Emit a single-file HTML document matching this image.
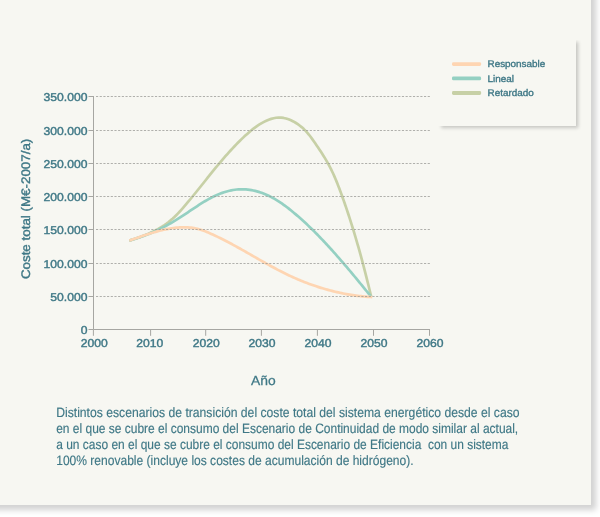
<!DOCTYPE html>
<html lang="es"><head><meta charset="utf-8"><title>Coste total</title>
<style>
html,body{margin:0;padding:0;background:#fff;}
body{width:600px;height:517px;position:relative;overflow:hidden;font-family:"Liberation Sans",sans-serif;}
.card{position:absolute;left:-20px;top:-20px;width:611px;height:524.5px;background:#f7f7f2;box-shadow:4.5px 4.5px 6px rgba(0,0,0,.18);}
.legend{position:absolute;left:438px;top:40px;width:138px;height:85.5px;background:#f7f7f2;box-shadow:3.2px 2px 3.5px rgba(0,0,0,.2);clip-path:inset(0 -12px -12px 0);}
</style></head><body>
<div class="card"></div>
<div class="legend"></div>
<svg width="600" height="517" viewBox="0 0 600 517" text-rendering="geometricPrecision" style="position:absolute;left:0;top:0">
<path d="M93.5 96.0 V329.5 H430.0" fill="none" stroke="#a6a6a2" stroke-width="1"/>
<line x1="88.5" y1="329.5" x2="93.5" y2="329.5" stroke="#a6a6a2" stroke-width="1"/>
<line x1="88.5" y1="296.5" x2="93.5" y2="296.5" stroke="#a6a6a2" stroke-width="1"/>
<line x1="88.5" y1="263.5" x2="93.5" y2="263.5" stroke="#a6a6a2" stroke-width="1"/>
<line x1="88.5" y1="229.5" x2="93.5" y2="229.5" stroke="#a6a6a2" stroke-width="1"/>
<line x1="88.5" y1="196.5" x2="93.5" y2="196.5" stroke="#a6a6a2" stroke-width="1"/>
<line x1="88.5" y1="163.5" x2="93.5" y2="163.5" stroke="#a6a6a2" stroke-width="1"/>
<line x1="88.5" y1="130.5" x2="93.5" y2="130.5" stroke="#a6a6a2" stroke-width="1"/>
<line x1="88.5" y1="96.5" x2="93.5" y2="96.5" stroke="#a6a6a2" stroke-width="1"/>
<line x1="93.4" y1="329.5" x2="93.4" y2="335.8" stroke="#a6a6a2" stroke-width="1"/>
<line x1="150.6" y1="329.5" x2="150.6" y2="335.8" stroke="#a6a6a2" stroke-width="1"/>
<line x1="205.7" y1="329.5" x2="205.7" y2="335.8" stroke="#a6a6a2" stroke-width="1"/>
<line x1="261.4" y1="329.5" x2="261.4" y2="335.8" stroke="#a6a6a2" stroke-width="1"/>
<line x1="317.4" y1="329.5" x2="317.4" y2="335.8" stroke="#a6a6a2" stroke-width="1"/>
<line x1="373.5" y1="329.5" x2="373.5" y2="335.8" stroke="#a6a6a2" stroke-width="1"/>
<line x1="429.5" y1="329.5" x2="429.5" y2="335.8" stroke="#a6a6a2" stroke-width="1"/>
<path d="M129.30 240.60 L131.71 239.85 L134.14 239.07 L136.57 238.25 L139.00 237.41 L141.43 236.53 L143.85 235.60 L146.26 234.64 L148.65 233.63 L151.01 232.57 L153.36 231.46 L155.67 230.29 L157.94 229.07 L160.18 227.78 L162.37 226.44 L164.51 225.03 L166.60 223.54 L168.63 221.99 L170.60 220.37 L172.53 218.69 L174.40 216.95 L176.24 215.16 L178.04 213.33 L179.80 211.46 L181.53 209.56 L183.24 207.62 L184.93 205.67 L186.60 203.71 L188.25 201.73 L189.90 199.74 L191.54 197.75 L193.17 195.76 L194.79 193.76 L196.41 191.76 L198.02 189.76 L199.63 187.75 L201.23 185.74 L202.84 183.73 L204.44 181.73 L206.04 179.72 L207.65 177.71 L209.26 175.71 L210.87 173.71 L212.48 171.71 L214.10 169.72 L215.73 167.73 L217.36 165.75 L219.00 163.78 L220.65 161.81 L222.31 159.85 L223.99 157.90 L225.67 155.97 L227.37 154.04 L229.08 152.13 L230.81 150.22 L232.56 148.34 L234.32 146.47 L236.10 144.61 L237.90 142.77 L239.72 140.95 L241.56 139.15 L243.42 137.37 L245.30 135.61 L247.22 133.88 L249.16 132.17 L251.14 130.51 L253.15 128.90 L255.21 127.35 L257.32 125.86 L259.49 124.44 L261.71 123.10 L263.99 121.85 L266.33 120.71 L268.72 119.71 L271.15 118.86 L273.61 118.21 L276.09 117.76 L278.59 117.56 L281.10 117.63 L283.61 117.96 L286.09 118.52 L288.55 119.31 L290.96 120.29 L293.32 121.44 L295.60 122.75 L297.80 124.18 L299.91 125.72 L301.93 127.36 L303.84 129.10 L305.66 130.92 L307.38 132.81 L309.02 134.76 L310.59 136.78 L312.11 138.83 L313.59 140.92 L315.04 143.03 L316.49 145.16 L317.93 147.29 L319.37 149.44 L320.79 151.59 L322.20 153.76 L323.58 155.94 L324.94 158.14 L326.26 160.35 L327.54 162.58 L328.78 164.84 L329.98 167.11 L331.14 169.40 L332.26 171.72 L333.34 174.04 L334.39 176.39 L335.41 178.75 L336.40 181.12 L337.37 183.50 L338.31 185.89 L339.23 188.29 L340.14 190.70 L341.03 193.11 L341.91 195.53 L342.77 197.95 L343.63 200.38 L344.48 202.81 L345.32 205.24 L346.15 207.67 L346.98 210.11 L347.79 212.55 L348.60 215.00 L349.39 217.44 L350.18 219.89 L350.96 222.34 L351.74 224.80 L352.50 227.25 L353.26 229.71 L354.01 232.17 L354.75 234.64 L355.49 237.10 L356.22 239.57 L356.94 242.04 L357.65 244.51 L358.36 246.99 L359.06 249.46 L359.75 251.94 L360.44 254.42 L361.12 256.90 L361.79 259.39 L362.46 261.87 L363.12 264.36 L363.77 266.85 L364.42 269.34 L365.06 271.83 L365.70 274.32 L366.33 276.81 L366.96 279.31 L367.58 281.80 L368.20 284.30 L368.81 286.80 L369.41 289.30 L370.01 291.80 L370.61 294.30 L371.20 296.80" fill="none" stroke="#c7d0a6" stroke-width="2.7" stroke-linecap="butt" stroke-linejoin="round"/>
<path d="M129.30 240.60 L131.10 240.07 L132.90 239.52 L134.69 238.96 L136.48 238.38 L138.26 237.79 L140.04 237.18 L141.81 236.55 L143.57 235.91 L145.33 235.25 L147.08 234.58 L148.82 233.88 L150.55 233.17 L152.28 232.45 L154.00 231.70 L155.71 230.94 L157.40 230.16 L159.09 229.36 L160.77 228.55 L162.44 227.72 L164.10 226.86 L165.75 225.99 L167.38 225.10 L169.01 224.19 L170.62 223.27 L172.23 222.33 L173.82 221.37 L175.41 220.40 L176.99 219.42 L178.57 218.42 L180.14 217.42 L181.71 216.41 L183.27 215.38 L184.83 214.35 L186.39 213.32 L187.95 212.28 L189.51 211.23 L191.07 210.19 L192.64 209.14 L194.20 208.09 L195.77 207.05 L197.35 206.01 L198.93 204.98 L200.52 203.96 L202.12 202.96 L203.72 201.97 L205.34 201.00 L206.97 200.05 L208.61 199.12 L210.26 198.22 L211.92 197.35 L213.61 196.51 L215.30 195.70 L217.02 194.93 L218.75 194.20 L220.50 193.51 L222.26 192.86 L224.04 192.26 L225.83 191.71 L227.63 191.21 L229.44 190.76 L231.27 190.36 L233.09 190.02 L234.93 189.74 L236.77 189.53 L238.61 189.37 L240.46 189.29 L242.30 189.27 L244.15 189.32 L245.99 189.43 L247.83 189.60 L249.67 189.84 L251.50 190.14 L253.32 190.49 L255.14 190.91 L256.94 191.37 L258.74 191.89 L260.52 192.46 L262.29 193.08 L264.04 193.75 L265.78 194.46 L267.50 195.22 L269.20 196.02 L270.88 196.86 L272.54 197.74 L274.18 198.65 L275.81 199.60 L277.41 200.58 L279.00 201.60 L280.57 202.64 L282.12 203.70 L283.66 204.79 L285.18 205.90 L286.69 207.04 L288.18 208.19 L289.67 209.35 L291.14 210.53 L292.60 211.72 L294.05 212.92 L295.48 214.13 L296.91 215.35 L298.33 216.57 L299.74 217.81 L301.14 219.05 L302.53 220.30 L303.91 221.56 L305.28 222.83 L306.65 224.10 L308.00 225.38 L309.35 226.67 L310.69 227.97 L312.03 229.27 L313.35 230.58 L314.67 231.89 L315.99 233.22 L317.30 234.55 L318.60 235.88 L319.90 237.22 L321.19 238.57 L322.48 239.92 L323.76 241.28 L325.04 242.64 L326.31 244.01 L327.58 245.38 L328.84 246.76 L330.10 248.14 L331.36 249.53 L332.61 250.92 L333.86 252.31 L335.11 253.71 L336.35 255.11 L337.59 256.52 L338.83 257.93 L340.06 259.34 L341.29 260.76 L342.52 262.18 L343.74 263.60 L344.96 265.02 L346.18 266.45 L347.39 267.88 L348.60 269.32 L349.81 270.75 L351.02 272.19 L352.22 273.63 L353.42 275.07 L354.62 276.51 L355.82 277.95 L357.01 279.40 L358.20 280.85 L359.39 282.29 L360.58 283.74 L361.77 285.19 L362.95 286.64 L364.14 288.09 L365.32 289.54 L366.50 291.00 L367.67 292.45 L368.85 293.90 L370.03 295.35 L371.20 296.80" fill="none" stroke="#94d0c2" stroke-width="2.7" stroke-linecap="butt" stroke-linejoin="round"/>
<path d="M129.30 240.60 L130.81 240.08 L132.33 239.55 L133.85 239.01 L135.38 238.48 L136.91 237.94 L138.44 237.40 L139.99 236.87 L141.53 236.33 L143.08 235.80 L144.64 235.27 L146.19 234.75 L147.76 234.24 L149.33 233.74 L150.90 233.24 L152.47 232.76 L154.05 232.29 L155.63 231.83 L157.22 231.38 L158.81 230.96 L160.40 230.55 L162.00 230.15 L163.60 229.78 L165.20 229.43 L166.80 229.10 L168.41 228.80 L170.02 228.52 L171.64 228.26 L173.25 228.04 L174.87 227.84 L176.49 227.67 L178.11 227.53 L179.74 227.43 L181.36 227.35 L182.99 227.32 L184.62 227.31 L186.25 227.35 L187.88 227.43 L189.51 227.55 L191.13 227.71 L192.74 227.92 L194.35 228.17 L195.94 228.48 L197.53 228.84 L199.10 229.25 L200.65 229.71 L202.19 230.22 L203.73 230.77 L205.25 231.35 L206.76 231.96 L208.27 232.59 L209.77 233.24 L211.26 233.90 L212.75 234.57 L214.23 235.25 L215.71 235.94 L217.19 236.64 L218.66 237.35 L220.12 238.06 L221.59 238.79 L223.04 239.52 L224.50 240.26 L225.95 241.01 L227.40 241.76 L228.84 242.52 L230.28 243.29 L231.72 244.06 L233.16 244.84 L234.59 245.62 L236.02 246.41 L237.45 247.20 L238.88 247.99 L240.31 248.79 L241.73 249.59 L243.15 250.39 L244.58 251.20 L246.00 252.01 L247.42 252.82 L248.84 253.63 L250.26 254.44 L251.68 255.26 L253.09 256.07 L254.51 256.88 L255.93 257.69 L257.35 258.50 L258.77 259.31 L260.19 260.12 L261.61 260.93 L263.04 261.73 L264.46 262.54 L265.89 263.33 L267.32 264.13 L268.75 264.92 L270.18 265.71 L271.61 266.49 L273.05 267.27 L274.49 268.04 L275.93 268.81 L277.37 269.57 L278.82 270.33 L280.27 271.07 L281.73 271.82 L283.18 272.55 L284.65 273.28 L286.11 273.99 L287.58 274.70 L289.06 275.41 L290.54 276.10 L292.02 276.78 L293.51 277.45 L295.00 278.11 L296.50 278.77 L298.00 279.41 L299.51 280.05 L301.02 280.67 L302.53 281.28 L304.05 281.89 L305.57 282.48 L307.10 283.06 L308.63 283.64 L310.16 284.20 L311.70 284.75 L313.24 285.29 L314.79 285.82 L316.34 286.34 L317.89 286.85 L319.44 287.35 L321.00 287.84 L322.57 288.31 L324.13 288.78 L325.70 289.23 L327.27 289.67 L328.85 290.10 L330.43 290.52 L332.01 290.93 L333.59 291.33 L335.18 291.71 L336.77 292.08 L338.36 292.44 L339.96 292.79 L341.55 293.13 L343.15 293.45 L344.76 293.76 L346.36 294.06 L347.97 294.35 L349.58 294.62 L351.19 294.88 L352.80 295.13 L354.42 295.37 L356.03 295.59 L357.65 295.80 L359.27 296.00 L360.90 296.18 L362.52 296.36 L364.15 296.51 L365.78 296.66 L367.40 296.79 L369.04 296.91 L370.67 297.01 L372.30 297.10" fill="none" stroke="#fed5b2" stroke-width="2.7" stroke-linecap="butt" stroke-linejoin="round"/>
<line x1="96.0" y1="296.5" x2="430.1" y2="296.5" stroke="#989894" stroke-width="0.75" stroke-dasharray="2.15 1.5356"/>
<line x1="96.0" y1="263.5" x2="430.1" y2="263.5" stroke="#989894" stroke-width="0.75" stroke-dasharray="2.15 1.5356"/>
<line x1="96.0" y1="229.5" x2="430.1" y2="229.5" stroke="#989894" stroke-width="0.75" stroke-dasharray="2.15 1.5356"/>
<line x1="96.0" y1="196.5" x2="430.1" y2="196.5" stroke="#989894" stroke-width="0.75" stroke-dasharray="2.15 1.5356"/>
<line x1="96.0" y1="163.5" x2="430.1" y2="163.5" stroke="#989894" stroke-width="0.75" stroke-dasharray="2.15 1.5356"/>
<line x1="96.0" y1="130.5" x2="430.1" y2="130.5" stroke="#989894" stroke-width="0.75" stroke-dasharray="2.15 1.5356"/>
<line x1="96.0" y1="96.5" x2="430.1" y2="96.5" stroke="#989894" stroke-width="0.75" stroke-dasharray="2.15 1.5356"/>
<g font-family="'Liberation Sans', sans-serif" font-size="11.4" fill="#3f7886" stroke="#3f7886" stroke-width="0.4" text-anchor="end">
<text transform="translate(87.4 333.9) scale(1.065 1)">0</text>
<text transform="translate(87.4 300.9) scale(1.065 1)">50.000</text>
<text transform="translate(87.4 267.9) scale(1.065 1)">100.000</text>
<text transform="translate(87.4 233.9) scale(1.065 1)">150.000</text>
<text transform="translate(87.4 200.9) scale(1.065 1)">200.000</text>
<text transform="translate(87.4 167.9) scale(1.065 1)">250.000</text>
<text transform="translate(87.4 134.9) scale(1.065 1)">300.000</text>
<text transform="translate(87.4 100.9) scale(1.065 1)">350.000</text>
</g>
<g font-family="'Liberation Sans', sans-serif" font-size="11.4" fill="#3f7886" stroke="#3f7886" stroke-width="0.4" text-anchor="middle">
<text transform="translate(94.2 347.2) scale(1.065 1)">2000</text>
<text transform="translate(149.8 347.2) scale(1.065 1)">2010</text>
<text transform="translate(206.2 347.2) scale(1.065 1)">2020</text>
<text transform="translate(262.0 347.2) scale(1.065 1)">2030</text>
<text transform="translate(318.1 347.2) scale(1.065 1)">2040</text>
<text transform="translate(374.1 347.2) scale(1.065 1)">2050</text>
<text transform="translate(430.1 347.2) scale(1.065 1)">2060</text>
</g>
<text transform="translate(263.4 385.3) scale(1.05 1)" font-family="'Liberation Sans', sans-serif" font-size="13.2" fill="#3f7886" stroke="#3f7886" stroke-width="0.25" text-anchor="middle">Año</text>
<text transform="translate(29.8 208.9) rotate(-90) scale(1.079 1)" font-family="'Liberation Sans', sans-serif" font-size="12.4" fill="#3f7886" stroke="#3f7886" stroke-width="0.38" text-anchor="middle">Coste total (M€-2007/a)</text>
<rect x="452" y="62.2" width="29.1" height="3.8" rx="1.4" fill="#fed5b2"/>
<text transform="translate(487.5 67.4) scale(1.027 1)" font-family="'Liberation Sans', sans-serif" font-size="9.65" fill="#3f7886" stroke="#3f7886" stroke-width="0.35">Responsable</text>
<rect x="452" y="76.5" width="29.1" height="3.8" rx="1.4" fill="#94d0c2"/>
<text transform="translate(487.5 81.7) scale(1.027 1)" font-family="'Liberation Sans', sans-serif" font-size="9.65" fill="#3f7886" stroke="#3f7886" stroke-width="0.35">Lineal</text>
<rect x="452" y="91.1" width="29.1" height="3.8" rx="1.4" fill="#c7d0a6"/>
<text transform="translate(487.5 96.3) scale(1.027 1)" font-family="'Liberation Sans', sans-serif" font-size="9.65" fill="#3f7886" stroke="#3f7886" stroke-width="0.35">Retardado</text>
<g font-family="'Liberation Sans', sans-serif" font-size="13.6" fill="#3f7886" stroke="#3f7886" stroke-width="0.15">
<text x="56.2" y="416.5" textLength="463.4" lengthAdjust="spacingAndGlyphs">Distintos escenarios de transición del coste total del sistema energético desde el caso</text>
<text x="56.2" y="432.5" textLength="462.0" lengthAdjust="spacingAndGlyphs">en el que se cubre el consumo del Escenario de Continuidad de modo similar al actual,</text>
<text x="56.2" y="448.5" textLength="452.2" lengthAdjust="spacingAndGlyphs">a un caso en el que se cubre el consumo del Escenario de Eficiencia  con un sistema</text>
<text x="56.2" y="464.5" textLength="357.4" lengthAdjust="spacingAndGlyphs">100% renovable (incluye los costes de acumulación de hidrógeno).</text>
</g>
</svg>
</body></html>
